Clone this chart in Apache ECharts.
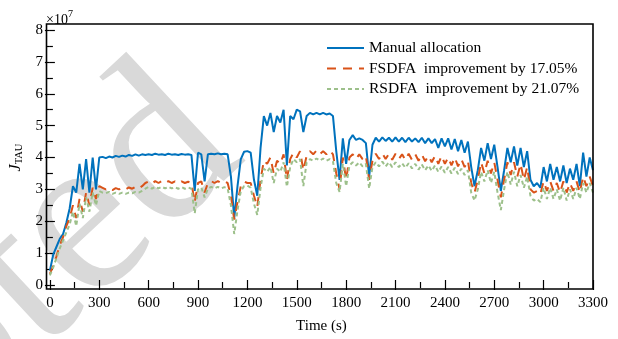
<!DOCTYPE html>
<html><head><meta charset="utf-8">
<script src="https://cdn.jsdelivr.net/npm/echarts@6/dist/echarts.min.js"></script>
<style>html,body{margin:0;padding:0;background:#fff}#c{width:618px;height:339px}</style>
</head><body><div id="c"></div>
<script>
// Time samples (s)
const times = [0,20,40,60,80,100,120,140,160,180,200,220,240,260,280,300,320,340,360,380,400,420,440,460,480,500,520,540,560,580,600,620,640,660,680,700,720,740,760,780,800,820,840,860,880,900,920,940,960,980,1000,1020,1040,1060,1080,1100,1120,1140,1160,1180,1200,1220,1240,1260,1280,1300,1320,1340,1360,1380,1400,1420,1440,1460,1480,1500,1520,1540,1560,1580,1600,1620,1640,1660,1680,1700,1720,1740,1760,1780,1800,1820,1840,1860,1880,1900,1920,1940,1960,1980,2000,2020,2040,2060,2080,2100,2120,2140,2160,2180,2200,2220,2240,2260,2280,2300,2320,2340,2360,2380,2400,2420,2440,2460,2480,2500,2520,2540,2560,2580,2600,2620,2640,2660,2680,2700,2720,2740,2760,2780,2800,2820,2840,2860,2880,2900,2920,2940,2960,2980,3000,3020,3040,3060,3080,3100,3120,3140,3160,3180,3200,3220,3240,3260,3280,3300];
// J_TAU values (x1e7)
const manual = [0.45,0.95,1.2,1.45,1.6,1.95,2.4,3.1,2.9,3.8,3.0,3.95,2.9,4.0,3.0,4.0,4.02,3.98,4.03,4.0,4.05,4.02,4.06,4.03,4.08,4.05,4.1,4.06,4.1,4.08,4.1,4.08,4.12,4.09,4.1,4.08,4.12,4.09,4.1,4.08,4.11,4.09,4.1,4.08,2.95,4.15,4.1,3.25,4.1,4.12,4.1,4.13,4.1,4.12,4.1,3.4,2.1,3.1,3.95,4.18,4.2,4.15,3.3,2.8,4.3,5.3,5.0,5.4,4.8,5.3,5.1,5.5,3.75,5.3,5.2,5.5,5.45,4.8,5.3,5.4,5.35,5.4,5.35,5.4,5.35,5.38,5.3,4.2,3.3,4.6,3.8,4.55,4.7,4.55,4.6,4.55,4.45,3.4,4.4,4.62,4.5,4.63,4.52,4.62,4.5,4.63,4.5,4.62,4.48,4.62,4.5,4.6,4.48,4.62,4.45,4.6,4.45,4.58,4.3,4.6,4.35,4.6,4.25,4.58,4.2,4.55,4.15,4.5,3.7,3.1,3.6,4.3,3.9,4.45,3.95,4.4,3.7,2.95,3.6,4.3,3.85,4.35,3.75,4.3,3.7,4.2,3.3,3.1,3.2,3.05,3.7,3.25,3.8,3.3,3.7,3.25,3.75,3.2,3.65,3.3,3.8,3.1,4.15,3.4,4.0,3.6];
const fsdfa = [0.35,0.6,0.9,1.25,1.5,1.85,2.1,2.5,2.1,2.7,2.3,2.9,2.5,3.05,2.7,3.1,3.05,3.0,3.05,2.98,3.04,3.0,3.05,3.0,3.06,3.02,3.08,3.03,3.1,3.2,3.25,3.18,3.26,3.2,3.26,3.2,3.26,3.2,3.25,3.19,3.25,3.2,3.24,3.2,2.6,3.2,3.25,2.9,3.2,3.26,3.2,3.26,3.2,3.25,3.2,2.8,2.05,2.6,3.1,3.25,3.2,3.2,2.8,2.45,3.3,3.9,3.8,4.0,3.5,3.9,3.8,4.1,3.3,3.95,4.15,4.0,4.2,3.6,4.05,4.2,4.1,4.22,4.1,4.2,4.1,4.22,4.1,3.5,3.0,4.0,3.3,4.0,4.1,3.95,4.1,3.95,4.05,3.3,3.9,4.12,3.95,4.13,3.95,4.12,3.93,4.12,3.95,4.1,3.92,4.12,3.93,4.1,3.9,4.1,3.88,4.05,3.85,4.05,3.8,4.05,3.8,4.0,3.75,4.0,3.72,3.95,3.7,3.9,3.2,2.9,3.3,3.85,3.5,3.9,3.5,3.85,3.3,2.75,3.3,3.85,3.45,3.85,3.4,3.8,3.3,3.7,3.0,2.9,2.95,2.85,3.25,2.95,3.25,2.95,3.2,2.9,3.25,2.9,3.2,2.95,3.25,2.9,3.4,3.1,3.4,3.1];
const rsdfa = [0.3,0.55,0.85,1.15,1.4,1.65,1.9,2.3,1.85,2.55,2.1,2.75,2.3,2.9,2.5,2.95,2.9,2.88,2.92,2.86,2.9,2.86,2.9,2.86,2.9,2.88,2.92,2.9,2.95,3.02,3.08,3.02,3.08,3.03,3.08,3.03,3.08,3.03,3.07,3.02,3.07,3.02,3.06,3.02,2.25,3.0,3.06,2.75,3.02,3.08,3.03,3.08,3.03,3.07,3.03,2.5,1.6,2.35,2.95,3.1,3.12,3.05,2.55,2.2,3.05,3.65,3.55,3.7,3.2,3.65,3.55,3.85,3.08,3.7,3.95,3.85,3.95,3.1,3.85,3.95,3.9,3.97,3.9,3.97,3.9,3.95,3.88,3.2,2.92,3.8,3.1,3.75,3.85,3.75,3.85,3.72,3.8,3.03,3.7,3.85,3.72,3.87,3.72,3.85,3.7,3.85,3.7,3.82,3.68,3.82,3.66,3.8,3.62,3.78,3.6,3.75,3.58,3.75,3.55,3.72,3.52,3.7,3.5,3.68,3.48,3.65,3.45,3.6,2.9,2.65,3.0,3.55,3.25,3.6,3.2,3.55,2.9,2.35,3.0,3.55,3.15,3.55,3.1,3.45,3.05,3.4,2.8,2.65,2.7,2.6,3.05,2.7,3.05,2.7,3.0,2.65,3.05,2.65,3.0,2.7,3.05,2.7,3.2,2.9,3.2,2.9];
const seriesNames = ['Manual allocation', 'FSDFA  improvement by 17.05%', 'RSDFA  improvement by 21.07%'];

const FONT = 'Liberation Serif';
const chart = echarts.init(document.getElementById('c'), null, {renderer: 'canvas'});
const pair = arr => times.map((t, i) => [t, arr[i]]);

const tickStyle = {show: true, inside: true, length: 5, lineStyle: {color: '#000', width: 1.2}};
const minorStyle = {show: true, splitNumber: 2, length: 3, lineStyle: {color: '#000', width: 1.2}};
const lbl = {color: '#000', fontFamily: FONT, fontSize: 15};
const plain = v => String(v);

chart.setOption({
  animation: false,
  backgroundColor: '#fff',
  grid: {left: 46.5, right: 25, top: 30, bottom: 54, containLabel: false},
  graphic: [
    {type: 'text', z: -10, x: 206, y: 114, rotation: 0.75, silent: true,
     style: {text: 'Accepted', font: '232px "Liberation Serif"', fill: '#d9d9d9', align: 'right', verticalAlign: 'middle'}},
    {type: 'rect', z: 100, silent: true, shape: {x: 46.5, y: 24, width: 546.5, height: 265},
     style: {fill: 'none', stroke: '#000', lineWidth: 1.6}},
    {type: 'text', z: 100, x: 46, y: 9,
     style: {text: '{a|×10}{b|7}', rich: {a: {fontFamily: FONT, fontSize: 14, fill: '#000', padding: [4, 0, 0, 0]}, b: {fontFamily: FONT, fontSize: 10, fill: '#000', verticalAlign: 'top'}}}}
  ],
  legend: {
    left: 321, top: 35, orient: 'vertical', itemWidth: 37, itemHeight: 14, itemGap: 4.5,
    data: seriesNames,
    itemStyle: {opacity: 0},
    textStyle: {color: '#000', fontFamily: FONT, fontSize: 15.5, padding: [0, 0, 0, 0]}
  },
  xAxis: [
    {type: 'value', min: 0, max: 3300, interval: 300, position: 'bottom', offset: 4,
     axisLine: {show: false}, axisTick: tickStyle, minorTick: minorStyle, splitLine: {show: false},
     axisLabel: Object.assign({margin: 7, formatter: plain}, lbl),
     name: 'Time (s)', nameLocation: 'middle', nameGap: 30, nameTextStyle: lbl},
    {type: 'value', min: 0, max: 3300, interval: 300, position: 'top', offset: 6,
     axisLine: {show: false}, axisTick: tickStyle, minorTick: minorStyle, splitLine: {show: false},
     axisLabel: {show: false}}
  ],
  yAxis: [
    {type: 'value', min: 0, max: 8, interval: 1, position: 'left',
     axisLine: {show: false}, axisTick: tickStyle, minorTick: minorStyle, splitLine: {show: false},
     axisLabel: Object.assign({margin: 7, formatter: plain}, lbl),
     name: '{i|J}{s|TAU}', nameLocation: 'middle', nameGap: 16,
     nameTextStyle: {rich: {i: {fontFamily: FONT, fontStyle: 'italic', fontSize: 16, color: '#000'},
                            s: {fontFamily: FONT, fontSize: 10.5, color: '#000', verticalAlign: 'bottom', padding: [6, 0, 0, 0]}}}},
    {type: 'value', min: 0, max: 8, interval: 1, position: 'right',
     axisLine: {show: false}, axisTick: tickStyle, minorTick: minorStyle, splitLine: {show: false},
     axisLabel: {show: false}}
  ],
  series: [
    {name: seriesNames[0], type: 'line', symbol: 'none', data: pair(manual),
     lineStyle: {color: '#0072BD', width: 2}, itemStyle: {color: '#0072BD'}, z: 3},
    {name: seriesNames[1], type: 'line', symbol: 'none', data: pair(fsdfa),
     lineStyle: {color: '#D95319', width: 2, type: [9, 7]}, itemStyle: {color: '#D95319'}, z: 4},
    {name: seriesNames[2], type: 'line', symbol: 'none', data: pair(rsdfa),
     lineStyle: {color: '#9DC08B', width: 2, type: [4, 3]}, itemStyle: {color: '#9DC08B'}, z: 5}
  ]
});
</script></body></html>
